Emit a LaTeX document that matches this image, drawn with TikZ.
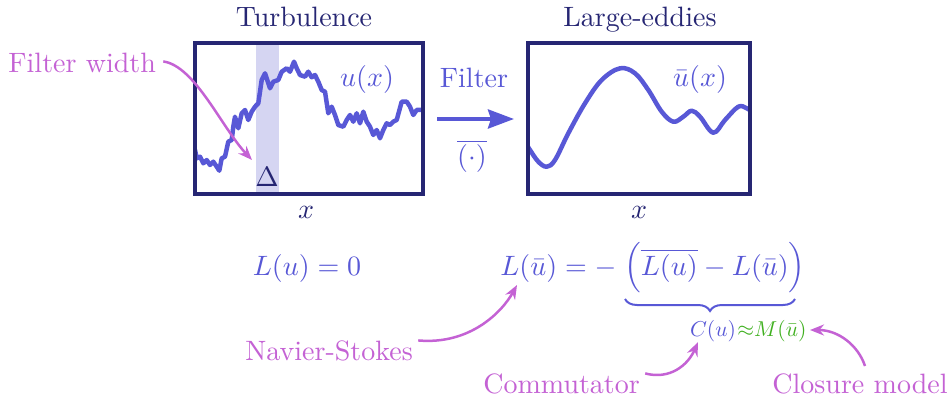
\documentclass[tikz,border=0pt]{standalone}
\usepackage{amsmath}
\usetikzlibrary{arrows.meta,decorations.pathreplacing,calc}
\definecolor{navy}{RGB}{38,38,115}
\definecolor{curve}{RGB}{88,88,214}
\definecolor{band}{RGB}{213,213,242}
\definecolor{mag}{RGB}{196,98,212}
\definecolor{grn}{RGB}{64,176,32}
\tikzset{
  big/.style={font=\normalsize, scale=2.8, inner sep=0.3pt},
  small/.style={font=\normalsize, scale=2.15, inner sep=0.3pt},
  frame/.style={draw=navy, line width=3.5pt},
  wave/.style={curve, line width=4.5pt, line join=round, line cap=round},
  callout/.style={mag, line width=2.5pt, -{Stealth[length=14pt,width=11pt]}},
}
\begin{document}
\begin{tikzpicture}[x=1pt,y=-1pt]
\useasboundingbox (0,0) rectangle (952,398);
% left panel
\fill[band] (256,43) rectangle (279,194);
\begin{scope}
\clip (195,43) rectangle (423,194);
\draw[wave] (195,150) -- (196.7,158.3) -- (200,156.7) -- (203.3,163.3) -- (206.7,160) -- (210,165) -- (213.3,161.7) -- (216.7,166.7) -- (219.3,170.7) -- (221.7,158.3) -- (225,156.7) -- (228.3,141.7) -- (231.7,140) -- (233.3,126.7) -- (235,116.7) -- (238.3,128.3) -- (241.7,113.3) -- (245,110) -- (248.3,120) -- (251.7,111.7) -- (255,106.7) -- (258.3,103.3) -- (261.7,80) -- (265,73.3) -- (270,88.3) -- (273.3,81.7) -- (278.3,80) -- (281.7,71.7) -- (286.7,68.3) -- (290,71.7) -- (294,61.7) -- (296.7,68.3) -- (300,75) -- (305,76.7) -- (308.3,71.7) -- (311.7,77.3) -- (315,75) -- (318.3,81.7) -- (321.7,90) -- (325,91.7) -- (328.3,113.3) -- (331.7,106.7) -- (335,115) -- (338.3,125) -- (343.3,126.7) -- (346.7,120) -- (350,115) -- (353.3,121.7) -- (356.7,113.3) -- (360,123.3) -- (363.3,111.7) -- (366.7,121.7) -- (370,126.7) -- (373.3,135) -- (376.7,130) -- (380,138.3) -- (383.3,130) -- (386.7,123.3) -- (390,125) -- (393.3,121.7) -- (396.7,120) -- (401.7,101.7) -- (406.7,101.7) -- (410,106.7) -- (413.3,115) -- (416.7,110) -- (423,110);
\end{scope}
\node[frame, minimum width=228pt, minimum height=151pt, inner sep=0pt] (lbox) at (309,118.5) {};
\node[big, navy, anchor=base] (turb) at (304,27) {Turbulence};
\node[big, navy, anchor=base] (delta) at (267,186) {$\Delta$};
\node[big, navy, anchor=base] (lx) at (306,218) {$x$};
\node[big, curve, anchor=base] (ux) at (367,87) {$u(x)$};
% middle
\node[big, curve, anchor=base] (filt) at (474,88) {Filter};
\coordinate (fa) at (437,119);
\coordinate (fb) at (514,119);
\draw[curve, line width=4pt, -{Stealth[length=26pt,width=19pt,inset=3pt]}] (fa) -- (fb);
\node[big, curve, anchor=base] (op) at (472,166) {$\overline{(\cdot)}$};
% right panel
\begin{scope}
\clip (528,43) rectangle (750,194);
\draw[wave] plot[smooth, tension=0.6] coordinates {(527,145) (530,150) (538.3,161.7) (546.7,166.7) (555,160) (568.3,133.3) (585,103.3) (601.7,80) (620,68.3) (635,73.3) (648.3,90) (661.7,111.7) (673.3,121.7) (683.3,116.7) (691.7,110.7) (700,116.7) (713.3,132.7) (725,120) (738.3,106.7) (746.7,108.3) (753.3,112.7)};
\end{scope}
\node[frame, minimum width=222pt, minimum height=151pt, inner sep=0pt] (rbox) at (639,118.5) {};
\node[big, navy, anchor=base] (les) at (640,27) {Large-eddies};
\node[big, navy, anchor=base] (rx) at (639,218) {$x$};
\node[big, curve, anchor=base] (ubx) at (700,87) {$\bar u(x)$};
% equations
\node[big, curve, anchor=base] (lu) at (307,275) {$L(u) = 0$};
\node[big, curve, anchor=base west] (eq) at (499,275) {$L(\bar u) = -\;\Bigl(\overline{L(u)} - L(\bar u)\Bigr)$};
\draw[curve, line width=2pt, decorate, decoration={brace, amplitude=12pt}] (795,299) -- (625,299);
\node[small, curve, anchor=base] (cu) at (713,336) {$C(u)$};
\node[small, grn, anchor=base west, inner sep=0pt] (mu) at (cu.base east) {${\approx}M(\bar u)$};
% callouts
\node[big, mag, anchor=base west] (fw) at (7,73) {Filter width};
\node[big, mag, anchor=base west] (ns) at (244,360) {Navier-Stokes};
\node[big, mag, anchor=base west] (com) at (482,393) {Commutator};
\node[big, mag, anchor=base west] (clo) at (771,393) {Closure model};
\coordinate (fwt) at (252,160);
\coordinate (nst) at (517,285);
\coordinate (comt) at (698,342);
\coordinate (clot) at (810,330);
\draw[callout] (fw.east) ++(6,-2) .. controls (195,66) and (222,128) .. (fwt);
\draw[callout] (ns.east) ++(4,-10) .. controls (470,345) and (502,312) .. (nst);
\draw[callout] (com.east) ++(4,-10) .. controls (670,380) and (688,365) .. (comt);
\draw[callout] (865,366) .. controls (858,345) and (838,330) .. (clot);
\end{tikzpicture}
\end{document}
